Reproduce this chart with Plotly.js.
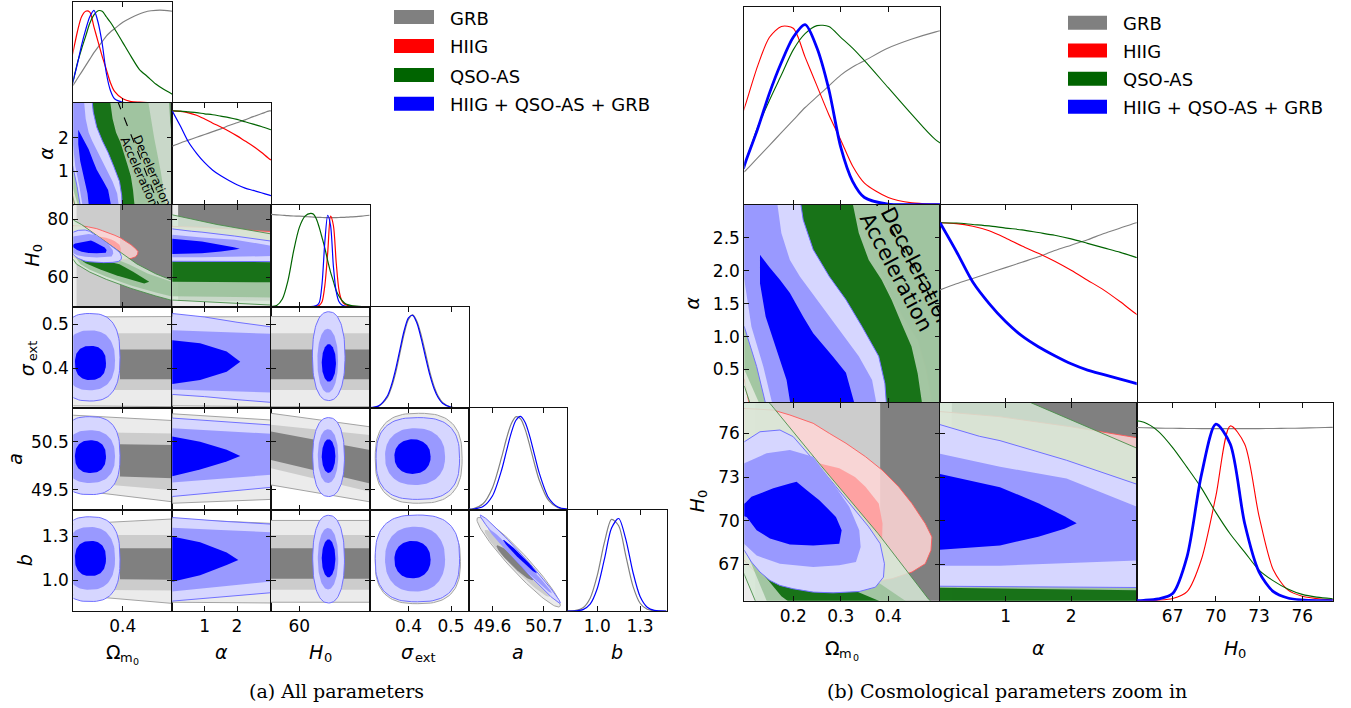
<!DOCTYPE html>
<html><head><meta charset="utf-8">
<script src="https://cdn.plot.ly/plotly-3.0.1.min.js"></script>
<style>html,body{margin:0;padding:0;background:#fff}#c{width:1351px;height:708px}</style>
</head><body><div id="c"></div>
<script>
// ================= DATA =================
const SETS = ['GRB','HIIG','QSO','ALL'];
const SET_LABELS = ['GRB','HIIG','QSO-AS','HIIG + QSO-AS + GRB'];

// ---- 1D marginals (peak-normalised densities) ----
const omGrid = [0.095,0.10,0.125,0.15,0.175,0.2,0.225,0.25,0.275,0.3,0.325,0.35,0.4,0.45,0.5,0.55,0.6,0.65,0.7];
const omGRB  = [0.18,0.19,0.26,0.33,0.40,0.47,0.54,0.60,0.66,0.72,0.765,0.80,0.87,0.92,0.96,0.99,1.0,1.0,0.99];
const omHIIG = [0.52,0.56,0.77,0.93,0.99,0.98,0.82,0.66,0.50,0.36,0.215,0.12,0.04,0.01,0.003,0,0,0,0];
const omQSO  = [0.21,0.24,0.43,0.58,0.72,0.86,0.95,0.995,0.99,0.93,0.87,0.80,0.65,0.50,0.36,0.28,0.20,0.14,0.09];
const omALL  = [0.20,0.24,0.42,0.62,0.79,0.93,1.0,0.87,0.64,0.32,0.13,0.04,0.003,0,0,0,0,0,0];

const alGrid = [0,0.25,0.5,0.75,1.0,1.25,1.5,1.75,2.0,2.25,2.5,2.75,3.0,3.05];
const alGRB  = [0.626,0.66,0.69,0.72,0.75,0.78,0.81,0.845,0.875,0.905,0.94,0.97,1.0,1.0];
const alHIIG = [1.0,0.995,0.98,0.955,0.915,0.87,0.83,0.785,0.735,0.68,0.625,0.56,0.49,0.48];
const alQSO  = [1.0,0.998,0.99,0.982,0.97,0.96,0.945,0.93,0.91,0.885,0.86,0.835,0.806,0.80];
const alALL  = [1.0,0.84,0.67,0.55,0.45,0.37,0.31,0.26,0.215,0.18,0.155,0.13,0.105,0.10];

const h0Grid = [50,52,54,56,58,60,62,64,65,66,67,68,69,70,71,72,73,74,75,76,77,78,80,82,84.8];
const h0GRB  = [0.99,0.985,0.98,0.975,0.972,0.97,0.966,0.962,0.96,0.958,0.957,0.956,0.955,0.955,0.955,0.955,0.955,0.956,0.957,0.958,0.96,0.962,0.965,0.97,0.98];
const h0HIIG = [0,0,0,0,0,0,0,0,0,0.003,0.012,0.05,0.23,0.58,0.97,0.87,0.47,0.17,0.06,0.025,0.012,0.005,0,0,0];
const h0QSO  = [0,0.01,0.08,0.28,0.6,0.85,0.97,1.0,0.99,0.94,0.85,0.74,0.625,0.49,0.37,0.27,0.17,0.11,0.065,0.035,0.02,0.012,0.004,0,0];
const h0ALL  = [0,0,0,0,0,0,0,0,0.002,0.01,0.04,0.245,0.7,0.98,0.87,0.43,0.16,0.05,0.015,0.004,0,0,0,0,0];

const sigGrid = [0.309,0.33,0.35,0.36,0.37,0.38,0.39,0.40,0.41,0.42,0.43,0.44,0.45,0.46,0.47,0.48,0.50,0.52,0.541];
const sigGRB  = [0.002,0.019,0.11,0.22,0.38,0.59,0.80,0.95,1.0,0.93,0.78,0.59,0.39,0.235,0.125,0.06,0.01,0.001,0];
const sigALL  = [0.003,0.023,0.126,0.245,0.418,0.628,0.832,0.969,0.995,0.91,0.745,0.546,0.358,0.21,0.11,0.052,0.008,0.001,0];

const aGrid = [49.09,49.2,49.4,49.6,49.8,49.9,50.0,50.1,50.2,50.3,50.4,50.5,50.6,50.8,51.0,51.2];
const aGRB  = [0.004,0.011,0.062,0.232,0.567,0.76,0.916,0.995,0.975,0.86,0.684,0.49,0.317,0.097,0.019,0.003];
const aALL  = [0.001,0.004,0.031,0.145,0.43,0.627,0.818,0.956,1.0,0.935,0.783,0.586,0.393,0.126,0.026,0.003];

const bGrid = [0.79,0.85,0.9,0.95,1.0,1.05,1.1,1.15,1.2,1.25,1.3,1.35,1.4,1.485];
const bGRB  = [0,0.006,0.035,0.138,0.383,0.736,0.984,0.915,0.592,0.267,0.083,0.018,0.003,0];
const bALL  = [0,0.002,0.015,0.073,0.241,0.556,0.89,0.993,0.77,0.416,0.156,0.041,0.007,0];

// ---- 2D contours: outlines [x,y] of 68% (1), 95% (2), 99.7% (3) regions ----
// Omega_m0 - alpha
const OmAl_HIIG3 = [[0.05,3.2],[0.322,3.2],[0.33,3.0],[0.355,2.5],[0.38,2.06],[0.407,1.61],[0.435,1.25],[0.462,0.95],[0.48,0.5],[0.49,0.1],[0.492,-0.2],[0.112,-0.2],[0.097,0.35],[0.05,0.8]];
const OmAl_QSO3  = [[0.05,3.2],[0.684,3.2],[0.69,2.5],[0.70,1.95],[0.72,1.0],[0.73,-0.2],[0.118,-0.2],[0.097,0.25],[0.05,0.5]];
const OmAl_QSO2  = [[0.05,3.2],[0.55,3.2],[0.59,2.0],[0.63,1.0],[0.668,-0.2],[0.14,-0.2],[0.097,0.5],[0.05,0.8]];
const OmAl_QSO1  = [[0.14,3.2],[0.32,3.2],[0.338,2.57],[0.359,2.16],[0.386,1.86],[0.407,1.56],[0.428,1.2],[0.449,0.85],[0.462,0.44],[0.475,-0.2],[0.2,-0.2],[0.17,1.0],[0.15,2.0]];
const OmAl_ALL3  = [[0.05,3.2],[0.212,3.2],[0.221,2.77],[0.242,2.32],[0.276,1.91],[0.311,1.56],[0.345,1.15],[0.38,0.70],[0.393,0.29],[0.398,-0.2],[0.148,-0.2],[0.123,0.545],[0.097,1.15],[0.05,1.5]];
const OmAl_ALL2  = [[0.05,3.2],[0.163,3.2],[0.175,2.57],[0.193,2.16],[0.214,1.91],[0.255,1.51],[0.297,1.10],[0.338,0.70],[0.366,0.34],[0.38,-0.2],[0.162,-0.2],[0.137,0.545],[0.112,1.15],[0.097,1.86],[0.05,2.2]];
const OmAl_ALL1  = [[0.13,2.24],[0.15,2.05],[0.172,1.86],[0.193,1.66],[0.221,1.30],[0.242,1.05],[0.283,0.70],[0.311,0.45],[0.336,-0.2],[0.198,-0.2],[0.186,0.34],[0.165,0.80],[0.142,1.30],[0.13,1.81]];
// Omega_m0 - H0
const OmH0_HIIG3 = [[0.05,77.8],[0.097,77.72],[0.158,77.6],[0.193,77.26],[0.242,76.69],[0.276,76.0],[0.311,75.32],[0.352,74.4],[0.387,73.48],[0.422,72.33],[0.45,71.18],[0.478,69.8],[0.492,68.88],[0.49,67.96],[0.478,67.04],[0.45,66.47],[0.408,66.01],[0.366,65.78],[0.311,65.66],[0.242,65.6],[0.172,65.66],[0.13,66.12],[0.097,67.27],[0.05,68.5]];
const OmH0_HIIG2 = [[0.05,75.5],[0.2,74.6],[0.26,73.9],[0.297,73.6],[0.33,73.0],[0.352,72.33],[0.38,71.18],[0.388,69.8],[0.387,68.65],[0.375,67.8],[0.3,67.3],[0.2,67.3],[0.12,67.9],[0.05,69]];
const OmH0_QSO3  = [[0.05,82.5],[0.1,79.66],[0.151,78.06],[0.258,73.8],[0.379,69.1],[0.485,64.6],[0.6,61.2],[0.75,57.8],[0.75,51.3],[0.6,53.6],[0.45,56.2],[0.3,59.3],[0.2,61.8],[0.12,64.5],[0.097,66.3],[0.05,69.5]];
const OmH0_QSO2  = [[0.05,75.5],[0.2,70.5],[0.3,67.5],[0.436,64.5],[0.55,61.3],[0.75,57.4],[0.75,52.7],[0.6,54.8],[0.45,57.2],[0.3,60.2],[0.2,62.6],[0.144,64.5],[0.097,68.2],[0.05,71]];
const OmH0_QSO1  = [[0.12,68.0],[0.2,67.0],[0.3,65.6],[0.38,64.5],[0.46,62.0],[0.54,59.3],[0.56,58.5],[0.53,57.9],[0.45,59.2],[0.359,60.7],[0.26,62.8],[0.175,64.8],[0.13,66.6]];
const OmH0_ALL3  = [[0.05,75.0],[0.097,75.42],[0.13,76.11],[0.172,76.23],[0.2,75.77],[0.228,74.74],[0.255,73.71],[0.29,72.33],[0.325,70.95],[0.359,69.57],[0.383,68.42],[0.392,67.04],[0.39,66.12],[0.373,65.43],[0.339,65.13],[0.284,65.04],[0.242,65.09],[0.2,65.32],[0.172,65.55],[0.151,65.89],[0.13,66.47],[0.112,67.16],[0.097,67.96],[0.05,69.0]];
const OmH0_ALL2  = [[0.05,73.5],[0.097,73.94],[0.144,74.63],[0.193,74.86],[0.242,74.4],[0.284,72.56],[0.318,70.95],[0.339,69.34],[0.342,68.19],[0.332,67.16],[0.297,66.93],[0.242,66.81],[0.172,67.04],[0.123,67.6],[0.097,68.4],[0.05,69.2]];
const OmH0_ALL1  = [[0.05,71.0],[0.098,71.18],[0.112,71.64],[0.158,72.22],[0.193,72.56],[0.207,72.67],[0.228,72.1],[0.255,71.41],[0.29,70.26],[0.302,69.34],[0.297,68.42],[0.242,68.3],[0.193,68.37],[0.151,68.77],[0.123,69.34],[0.102,70.26],[0.05,70.6]];
// alpha - H0
const AlH0_GRB1  = [[0.18,52],[3.2,52],[3.2,90],[0.18,90]];
const AlH0_HIIG3 = [[-0.2,77.55],[0,77.5],[0.9,77.15],[2.0,76.45],[3.2,75.55],[3.2,65.83],[0,66.0],[-0.2,66.0]];
const AlH0_QSO3  = [[-0.2,81.9],[0,81.4],[1.38,78.12],[3.2,74.6],[3.2,50.4],[0,52.2],[-0.2,52.3]];
const AlH0_QSO2  = [[-0.2,74.3],[3.2,70.8],[3.2,53.1],[-0.2,53.5]];
const AlH0_QSO1  = [[-0.2,65.4],[3.2,65.2],[3.2,58.3],[-0.2,58.5]];
const AlH0_ALL3  = [[-0.2,76.7],[0,76.6],[0.6,75.8],[0.915,75.5],[1.93,74.15],[3.2,72.2],[3.2,65.4],[0,65.5],[-0.2,65.5]];
const AlH0_ALL2  = [[-0.2,74.7],[0,74.6],[0.915,73.7],[1.93,72.9],[3.2,70.6],[3.2,67.3],[0.915,66.91],[0,66.9],[-0.2,66.9]];
const AlH0_ALL1  = [[-0.2,73.3],[0,73.2],[0.915,72.3],[1.5,71.2],[1.9,70.3],[2.085,69.83],[1.9,69.45],[1.5,68.9],[0.915,68.3],[0,68.0],[-0.2,68.0]];
// alpha - sigma_ext / a / b (combined fit)
const AlSig_ALL3 = [[-0.2,0.527],[0,0.525],[1.0,0.517],[2.0,0.505],[3.2,0.493],[3.2,0.321],[2.0,0.328],[1.0,0.335],[0,0.34],[-0.2,0.34]];
const AlSig_ALL2 = [[-0.2,0.488],[0,0.487],[1.5,0.483],[3.2,0.478],[3.2,0.344],[1.5,0.348],[0,0.352],[-0.2,0.352]];
const AlSig_ALL1 = [[-0.2,0.464],[0,0.464],[0.86,0.457],[1.68,0.438],[2.1,0.415],[1.68,0.392],[0.86,0.373],[0,0.364],[-0.2,0.364]];
const AlA_ALL3   = [[-0.2,51.0],[0,50.99],[1.5,50.92],[3.2,50.84],[3.2,49.56],[1.5,49.45],[0,49.36],[-0.2,49.36]];
const AlA_ALL2   = [[-0.2,50.78],[0,50.78],[1.5,50.72],[3.2,50.66],[3.2,49.82],[1.5,49.73],[0,49.64],[-0.2,49.64]];
const AlA_ALL1   = [[-0.2,50.61],[0,50.61],[0.86,50.5],[1.68,50.33],[2.1,50.2],[1.68,50.09],[0.86,49.92],[0,49.78],[-0.2,49.78]];
const AlB_ALL3   = [[-0.2,1.43],[0,1.43],[1.5,1.405],[3.2,1.383],[3.2,0.918],[1.5,0.885],[0,0.854],[-0.2,0.854]];
const AlB_ALL2   = [[-0.2,1.36],[0,1.36],[1.5,1.345],[3.2,1.328],[3.2,0.995],[1.5,0.955],[0,0.92],[-0.2,0.92]];
const AlB_ALL1   = [[-0.2,1.30],[0,1.30],[0.86,1.26],[1.68,1.19],[2.04,1.14],[1.68,1.105],[0.86,1.035],[0,0.99],[-0.2,0.99]];

// GRB regions that are bands: lower edge in Omega_m0 / alpha of 68,95,99.7 % regions
const grbOmStart = [0.383,0.12,0.0];
const grbAlStart = [0.18,0.08,-1];
// GRB bands in rows sigma_ext, a, b : [bottom@left, top@left, bottom@right, top@right] for 68,95,99.7 %
const grbSig_Om = [[0.375,0.443,0.375,0.443],[0.35,0.48,0.35,0.48],[0.314,0.517,0.312,0.518]];
const grbSig_al = [[0.375,0.443,0.375,0.443],[0.35,0.48,0.35,0.48],[0.314,0.517,0.312,0.518]];
const grbSig_H0 = [[0.375,0.443,0.375,0.443],[0.35,0.48,0.35,0.48],[0.312,0.518,0.312,0.518]];
const grbA_Om   = [[49.81,50.46,49.74,50.43],[49.67,50.70,49.49,50.67],[49.5,51.05,49.25,50.94]];
const grbA_al   = [[49.8,50.46,49.78,50.44],[49.64,50.70,49.6,50.67],[49.22,51.08,49.3,50.95]];
const grbA_H0   = [[50.12,50.71,49.63,50.33],[49.95,50.85,49.46,50.64],[49.6,51.09,49.25,50.81]];
const grbB_Om   = [[1.01,1.22,1.004,1.22],[0.935,1.31,0.93,1.31],[0.9,1.385,0.842,1.42]];
const grbB_al   = [[1.01,1.22,1.01,1.22],[0.935,1.31,0.935,1.31],[0.85,1.42,0.845,1.39]];
const grbB_H0   = [[1.01,1.22,1.01,1.22],[0.935,1.31,0.935,1.31],[0.85,1.41,0.85,1.41]];

// Near-elliptical regions: [centre x, centre y, half-width x, half-width y, correlation, squareness]
const allOmSig = [[0.204,0.412,0.094,0.039,0,2.4],[0.2,0.418,0.153,0.0685,0,2.4],[0.2,0.425,0.183,0.1,0,2.7]];
const allOmA   = [[0.204,50.19,0.094,0.34,0,2.4],[0.2,50.19,0.153,0.55,0,2.4],[0.2,50.21,0.183,0.81,0,2.7]];
const allOmB   = [[0.204,1.15,0.094,0.12,0,2.4],[0.2,1.15,0.153,0.215,0,2.4],[0.2,1.145,0.183,0.29,0,2.7]];
const allH0Sig = [[70.4,0.412,2.5,0.043,0,2],[70.0,0.417,3.65,0.073,0,2.1],[70.35,0.4275,5.75,0.1015,0,2.3]];
const allH0A   = [[70.3,50.2,2.4,0.35,0,2],[70.1,50.2,3.6,0.56,0,2.1],[70.3,50.18,5.6,0.82,0,2.3]];
const allH0B   = [[70.3,1.15,2.4,0.13,0,2],[70.1,1.148,3.6,0.21,0,2.1],[70.3,1.145,5.6,0.3,0,2.3]];
const allSigA  = [[0.4095,50.19,0.0425,0.36,0,2.2],[0.4155,50.19,0.0705,0.59,0,2.3],[0.422,50.15,0.098,0.85,0,2.7]];
const allSigB  = [[0.4095,1.142,0.0425,0.128,0,2.2],[0.4155,1.145,0.0705,0.222,0,2.3],[0.421,1.15,0.099,0.297,0,2.7]];
const allAB    = [[50.19,1.162,0.36,0.115,-0.986,2],[50.19,1.133,0.68,0.222,-0.992,2],[50.195,1.145,0.855,0.302,-0.99,2]];
const grbSigA  = [null,null,[0.424,50.155,0.102,0.935,0,2.7]];
const grbSigB  = [null,null,[0.422,1.13,0.1,0.29,0,2.7]];
const grbAB    = [[50.08,1.12,0.39,0.12,-0.95,2],[50.135,1.117,0.7,0.23,-0.965,2],[50.16,1.124,0.89,0.307,-0.955,2]];

// Deceleration / acceleration boundary (q0 = 0) in the Omega_m0 - alpha plane
const decelOm = [0.368,0.626];
const decelAl = [3.1,-0.1];

// Axis ranges and ticks
const PARAMS = ['Om','al','H0','sig','a','b'];
const rangeL = {Om:[0.1,0.7],al:[0,3.05],H0:[50,84.8],sig:[0.309,0.541],a:[49.09,51.2],b:[0.79,1.485]};
const rangeR = {Om:[0.097,0.509],al:[0,3.0],H0:[64.5,78.12]};
const xTickL = {Om:[[0.4],['0.4']],al:[[1,2],['1','2']],H0:[[60],['60']],sig:[[0.4,0.5],['0.4','0.5']],a:[[49.6,50.7],['49.6','50.7']],b:[[1.0,1.3],['1.0','1.3']]};
const yTickL = {al:[[1,2],['1','2']],H0:[[60,80],['60','80']],sig:[[0.4,0.5],['0.4','0.5']],a:[[49.5,50.5],['49.5','50.5']],b:[[1.0,1.3],['1.0','1.3']]};
const xTickR = {Om:[[0.2,0.3,0.4],['0.2','0.3','0.4']],al:[[1,2],['1','2']],H0:[[67,70,73,76],['67','70','73','76']]};
const yTickR = {al:[[0.5,1,1.5,2,2.5],['0.5','1.0','1.5','2.0','2.5']],H0:[[67,70,73,76],['67','70','73','76']]};

// ================= STYLE / GEOMETRY =================
const W=1351, H=708;
const LX=[73.3,172.3,271,369.7,468.5,567.3,666.5];
const LY=[2,102.5,205,306.5,408,509.5,611];
const RX=[744.3,940,1136.7,1332.7];
const RY=[6.7,204.7,402.5,600.7];
const FILL={GRB:['#808080','#cccccc','#ebebeb'],HIIG:['#ff0000','#ff9999','#ffd6d6'],QSO:['#006400','#99c199','#d6e8d6'],ALL:['#0000ff','#9999ff','#d6d6ff']};
const EDGE={GRB:'#a3a3a3',HIIG:'#ff5a5a',QSO:'#4a8f4a',ALL:'#7070ff'};
const LINE={GRB:'#808080',HIIG:'#ff0000',QSO:'#006400',ALL:'#0000ff'};
const ALPHA={GRB:1,HIIG:0.85,QSO:0.85,ALL:1};
const FONT='DejaVu Sans';
// axis label pieces: [text, offset along text, offset below baseline, size, italic]
const LABEL_PARTS = {
  Om:[['Ω',-9.5,0,19,false],['m',3.5,5,13,false],['0',13.5,9,9.5,false]],
  al:[['α',0,0,19,true]],
  H0:[['H',-4,0,19,true],['0',7.5,5,13,false]],
  sig:[['σ',-12,0,19,true],['ext',6,5,13,false]],
  a:[['a',0,0,19,true]],
  b:[['b',0,0,19,true]]
};

function rgba(h,a){const r=parseInt(h.substr(1,2),16),g=parseInt(h.substr(3,2),16),b=parseInt(h.substr(5,2),16);return 'rgba('+r+','+g+','+b+','+a+')';}

const traces=[];
const layout={width:W,height:H,margin:{l:0,r:0,t:0,b:0,pad:0},paper_bgcolor:'#ffffff',plot_bgcolor:'#ffffff',showlegend:false,annotations:[],shapes:[],hovermode:false};
let nAx=0;
function addPanel(x0,x1,y0,y1,xr,yr,xt,yt,showX,showY,is1D){
  nAx++; const s=nAx===1?'':String(nAx);
  const base={showgrid:false,zeroline:false,showline:true,linecolor:'#111',linewidth:1,mirror:'ticks',ticks:'inside',ticklen:5,tickwidth:1,tickcolor:'#111',
    tickfont:{family:FONT,size:17,color:'#000'},fixedrange:true,layer:'above traces',tickmode:'array',automargin:false};
  layout['xaxis'+s]=Object.assign({},base,{domain:[x0/W,x1/W],range:xr,anchor:'y'+s,tickvals:xt?xt[0]:[],ticktext:xt?xt[1]:[],showticklabels:!!showX});
  layout['yaxis'+s]=Object.assign({},base,{domain:[1-y1/H,1-y0/H],range:yr,anchor:'x'+s,tickvals:yt?yt[0]:[],ticktext:yt?yt[1]:[],showticklabels:!!showY});
  if(is1D){layout['yaxis'+s].ticks='';layout['yaxis'+s].mirror=true;layout['yaxis'+s].tickvals=[];}
  return {xa:'x'+s,ya:'y'+s};
}
function addPoly(ax,pts,fill,edge){
  const xs=pts.map(p=>p[0]), ys=pts.map(p=>p[1]); xs.push(pts[0][0]); ys.push(pts[0][1]);
  traces.push({type:'scatter',mode:'lines',x:xs,y:ys,xaxis:ax.xa,yaxis:ax.ya,fill:'toself',fillcolor:fill,
    line:edge?{color:edge,width:1}:{color:'rgba(0,0,0,0)',width:0},hoverinfo:'skip'});
}
function addCurve(ax,xs,ys,color,w,dash){
  traces.push({type:'scatter',mode:'lines',x:xs,y:ys,xaxis:ax.xa,yaxis:ax.ya,line:{color:color,width:w,shape:dash?'linear':'spline',smoothing:0.8,dash:dash||'solid'},hoverinfo:'skip'});
}
function ellipse(e){
  if(!e) return null;
  const [cx,cy,rx,ry,rho,p]=e, q=Math.sqrt(1-rho*rho), pts=[];
  for(let i=0;i<96;i++){const t=2*Math.PI*i/96; let c=Math.cos(t), s=Math.sin(t);
    if(p!==2){c=Math.sign(c)*Math.pow(Math.abs(c),2/p); s=Math.sign(s)*Math.pow(Math.abs(s),2/p);}
    pts.push([cx+rx*c, cy+ry*(rho*c+q*s)]);}
  return pts;
}
function rect(start,xr,yr){
  const dx=xr[1]-xr[0], dy=yr[1]-yr[0];
  const x0=Math.max(start,xr[0]-dx), x1=xr[1]+dx, y0=yr[0]-dy, y1=yr[1]+dy;
  return [[x0,y0],[x1,y0],[x1,y1],[x0,y1]];
}
function band(v,start,xr){
  const [bL,tL,bR,tR]=v, dx=xr[1]-xr[0];
  const f=(a,b,x)=>a+(b-a)*(x-xr[0])/dx;
  const x0=Math.max(start,xr[0]-0.2*dx), x1=xr[1]+0.2*dx;
  return [[x0,f(bL,bR,x0)],[x1,f(bL,bR,x1)],[x1,f(tL,tR,x1)],[x0,f(tL,tR,x0)]];
}
const GRB_BANDS={sig:{Om:grbSig_Om,al:grbSig_al,H0:grbSig_H0},a:{Om:grbA_Om,al:grbA_al,H0:grbA_H0},b:{Om:grbB_Om,al:grbB_al,H0:grbB_H0}};
const ALL_ELL={Om_sig:allOmSig,Om_a:allOmA,Om_b:allOmB,H0_sig:allH0Sig,H0_a:allH0A,H0_b:allH0B,sig_a:allSigA,sig_b:allSigB,a_b:allAB};
const ALL_HORN={sig:[AlSig_ALL1,AlSig_ALL2,AlSig_ALL3],a:[AlA_ALL1,AlA_ALL2,AlA_ALL3],b:[AlB_ALL1,AlB_ALL2,AlB_ALL3]};

function getContours(xp,yp,xr,yr){
  const C={GRB:[null,null,null],HIIG:[null,null,null],QSO:[null,null,null],ALL:[null,null,null]};
  const k=xp+'_'+yp;
  if(k==='Om_al'){C.GRB=grbOmStart.map(s=>rect(s,xr,yr));C.HIIG=[null,null,OmAl_HIIG3];C.QSO=[OmAl_QSO1,OmAl_QSO2,OmAl_QSO3];C.ALL=[OmAl_ALL1,OmAl_ALL2,OmAl_ALL3];}
  else if(k==='Om_H0'){C.GRB=grbOmStart.map(s=>rect(s,xr,yr));C.HIIG=[null,OmH0_HIIG2,OmH0_HIIG3];C.QSO=[OmH0_QSO1,OmH0_QSO2,OmH0_QSO3];C.ALL=[OmH0_ALL1,OmH0_ALL2,OmH0_ALL3];}
  else if(k==='al_H0'){C.GRB=[AlH0_GRB1,null,rect(-1,xr,yr)];C.HIIG=[null,null,AlH0_HIIG3];C.QSO=[AlH0_QSO1,AlH0_QSO2,AlH0_QSO3];C.ALL=[AlH0_ALL1,AlH0_ALL2,AlH0_ALL3];}
  else if(GRB_BANDS[yp] && GRB_BANDS[yp][xp]){
    const st = xp==='Om'?grbOmStart:(xp==='al'?grbAlStart:[-1e9,-1e9,-1e9]);
    C.GRB=GRB_BANDS[yp][xp].map((v,i)=>band(v,st[i],xr));
    C.ALL= xp==='al' ? ALL_HORN[yp] : ALL_ELL[k].map(ellipse);
  }
  else if(k==='sig_a'){C.GRB=grbSigA.map(ellipse);C.ALL=allSigA.map(ellipse);}
  else if(k==='sig_b'){C.GRB=grbSigB.map(ellipse);C.ALL=allSigB.map(ellipse);}
  else if(k==='a_b'){C.GRB=grbAB.map(ellipse);C.ALL=allAB.map(ellipse);}
  return C;
}
function drawContours(ax,C){
  SETS.forEach(s=>{
    for(let lv=2;lv>=0;lv--){
      const pts=C[s][lv]; if(!pts) continue;
      const outer = (lv===2) || (lv===1 && !C[s][2]);
      addPoly(ax,pts,rgba(FILL[s][lv],ALPHA[s]),outer?rgba(EDGE[s],ALPHA[s]===1?1:0.9):null);
    }
  });
}
const D1={
  Om:{g:omGrid,GRB:omGRB,HIIG:omHIIG,QSO:omQSO,ALL:omALL},
  al:{g:alGrid,GRB:alGRB,HIIG:alHIIG,QSO:alQSO,ALL:alALL},
  H0:{g:h0Grid,GRB:h0GRB,HIIG:h0HIIG,QSO:h0QSO,ALL:h0ALL},
  sig:{g:sigGrid,GRB:sigGRB,ALL:sigALL},
  a:{g:aGrid,GRB:aGRB,ALL:aALL},
  b:{g:bGrid,GRB:bGRB,ALL:bALL}
};
function draw1D(ax,p,big){
  SETS.forEach(s=>{ if(D1[p][s]) addCurve(ax,D1[p].g,D1[p][s],LINE[s], big ? (s==='ALL'?2.8:1.1) : 1.2); });
}
function paperAnn(text,px,py,size,angle,family,xanchor,italic){
  const f={family:family||FONT,size:size,color:'#000'}; if(italic) f.style='italic';
  layout.annotations.push({text:text,x:px/W,y:1-py/H,xref:'paper',yref:'paper',showarrow:false,xanchor:xanchor||'center',yanchor:'middle',
    textangle:angle||0,font:f});
}
// axis label made of pieces; rot=-90 for labels that read bottom-to-top
function axisLabel(p,cx,cy,rot){
  LABEL_PARTS[p].forEach(([t,al,dn,sz,it])=>{
    const px = rot ? cx+dn : cx+al, py = rot ? cy-al : cy+dn;
    paperAnn(t,px,py,sz,rot||0,FONT,'center',it);
  });
}

// ================= LEFT TRIANGLE (all parameters) =================
let leftOmAl=null;
for(let i=0;i<6;i++){
  for(let j=0;j<=i;j++){
    const xp=PARAMS[j], yp=PARAMS[i];
    const diag=i===j;
    const ax=addPanel(LX[j],LX[j+1],LY[i],LY[i+1],rangeL[xp],diag?[0,1.09]:rangeL[yp],xTickL[xp],diag?null:yTickL[yp],i===5,j===0&&!diag,diag);
    if(diag) draw1D(ax,xp,false);
    else { drawContours(ax,getContours(xp,yp,rangeL[xp],rangeL[yp])); if(xp==='Om'&&yp==='al') leftOmAl=ax; }
  }
}
// ================= RIGHT TRIANGLE (cosmological zoom) =================
const RP=['Om','al','H0'];
let rightOmAl=null;
for(let i=0;i<3;i++){
  for(let j=0;j<=i;j++){
    const xp=RP[j], yp=RP[i], diag=i===j;
    const ax=addPanel(RX[j],RX[j+1],RY[i],RY[i+1],rangeR[xp],diag?[0,1.1]:rangeR[yp],xTickR[xp],diag?null:yTickR[yp],i===2,j===0&&!diag,diag);
    if(diag) draw1D(ax,xp,true);
    else { drawContours(ax,getContours(xp,yp,rangeR[xp],rangeR[yp])); if(xp==='Om'&&yp==='al') rightOmAl=ax; }
  }
}
// deceleration / acceleration divide
addCurve(leftOmAl,decelOm,decelAl,'#000',1.1,'dash');
addCurve(rightOmAl,decelOm,decelAl,'#000',1.6,'dash');
const clipAnn=[]; // [annotation index, clip rect in px]
function dataAnn(ax,text,x,y,size,angle,clip){
  clipAnn.push([layout.annotations.length,clip]);
  layout.annotations.push({text:text,x:x,y:y,xref:ax.xa,yref:ax.ya,showarrow:false,xanchor:'center',yanchor:'middle',textangle:angle,font:{family:FONT,size:size,color:'#000'}});
}
const clipL=[LX[0],LY[1],LX[1]-LX[0],LY[2]-LY[1]], clipR=[RX[0],RY[1],RX[1]-RX[0],RY[2]-RY[1]];
dataAnn(leftOmAl,'Deceleration',0.578,1.02,12,66,clipL);
dataAnn(leftOmAl,'Acceleration',0.497,0.97,12,66,clipL);
dataAnn(rightOmAl,'Deceleration',0.46,2.04,21,63,clipR);
dataAnn(rightOmAl,'Acceleration',0.418,1.97,21,62,clipR);

// ================= axis titles =================
PARAMS.forEach((p,j)=>axisLabel(p,(LX[j]+LX[j+1])/2,652,0));
const yTitleX=[46,32,27,15,25];
PARAMS.slice(1).forEach((p,k)=>axisLabel(p,yTitleX[k],(LY[k+1]+LY[k+2])/2,-90));
RP.forEach((p,j)=>axisLabel(p,(RX[j]+RX[j+1])/2,648,0));
axisLabel('al',692,(RY[1]+RY[2])/2,-90);
axisLabel('H0',697,(RY[2]+RY[3])/2,-90);

// ================= legends =================
function legend(px0,px1,textX,rows){
  SETS.forEach((s,k)=>{
    layout.shapes.push({type:'rect',xref:'paper',yref:'paper',x0:px0/W,x1:px1/W,y0:1-(rows[k]+7)/H,y1:1-(rows[k]-7)/H,fillcolor:LINE[s],line:{width:0}});
    paperAnn(SET_LABELS[k],textX,rows[k]+1,18,0,FONT,'left');
  });
}
legend(394,434,448,[17,46,75,103.7]);
legend(1068,1107,1121,[22.8,50.5,78.8,106.7]);

// ================= captions =================
paperAnn('(a) All parameters',336,691,19,0,'DejaVu Serif');
paperAnn('(b) Cosmological parameters zoom in',1007,691,19,0,'DejaVu Serif');

Plotly.newPlot('c',traces,layout,{staticPlot:true,displayModeBar:false}).then(gd=>{
  // clip the rotated region labels to their panel, as in the reference
  const ns='http://www.w3.org/2000/svg';
  clipAnn.forEach(([idx,r],n)=>{
    const g=gd.querySelector('g.annotation[data-index="'+idx+'"]');
    if(!g) return;
    const svg=g.ownerSVGElement;
    let defs=svg.querySelector('defs'); if(!defs){defs=document.createElementNS(ns,'defs');svg.insertBefore(defs,svg.firstChild);}
    const cp=document.createElementNS(ns,'clipPath'); cp.setAttribute('id','annclip'+n);
    const rc=document.createElementNS(ns,'rect'); rc.setAttribute('x',r[0]); rc.setAttribute('y',r[1]); rc.setAttribute('width',r[2]); rc.setAttribute('height',r[3]);
    cp.appendChild(rc); defs.appendChild(cp);
    g.setAttribute('clip-path','url(#annclip'+n+')');
  });
});
</script>
</body></html>
